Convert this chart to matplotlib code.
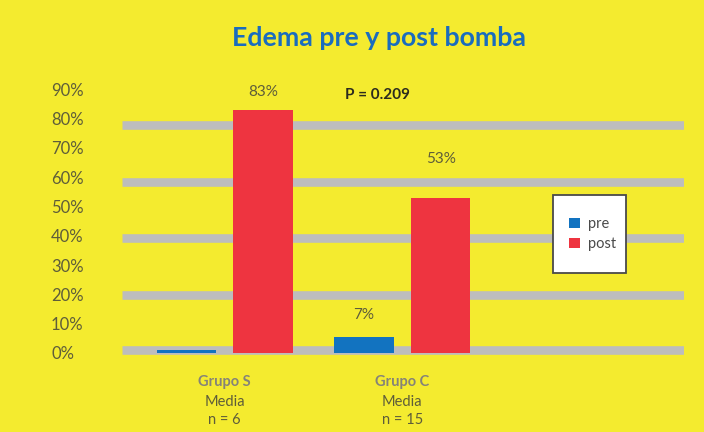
import matplotlib
matplotlib.use("Agg")
import matplotlib.pyplot as plt
from matplotlib.patches import Rectangle, Patch
import numpy as np

plt.rcParams['font.family'] = ['Lato', 'DejaVu Sans']

# ---- data ----
groups = ["Grupo S", "Grupo C"]
group_media = ["Media", "Media"]
group_n = ["n = 6", "n = 15"]
pre = [1.0, 5.6]
post = [83.0, 53.0]
pre_labels = ["", "7%"]
post_labels = ["83%", "53%"]
y_ticks = [0, 10, 20, 30, 40, 50, 60, 70, 80, 90]
y_tick_labels = [f"{v}%" for v in y_ticks]
grid_levels = [1.0, 19.8, 39.1, 58.4, 77.9]
series_names = ["pre", "post"]
p_text = "P = 0.209"
title = "Edema pre y post bomba"

# ---- style ----
BG = "#F4EB2F"
BLUE = "#1273C0"
RED = "#EE3440"
GRID = "#BDBDBD"
TXT = "#5E5D3A"
TITLE = "#1A6CBE"

W, H = 704, 432
fig = plt.figure(figsize=(W / 100, H / 100), dpi=100, facecolor=BG)

# axes in pixel positions
x0, x1 = 121.7, 684.3
ytop, ybot = 85, 360
ax = fig.add_axes([x0 / W, (H - ybot) / H, (x1 - x0) / W, (ybot - ytop) / H])
ax.set_facecolor(BG)
ax.set_xlim(-0.580, 2.588)
ax.set_ylim(-2.39, 91.47)

for g in grid_levels:
    ax.axhline(g, color=GRID, lw=6.2, zorder=1, solid_capstyle='butt')

x = np.arange(len(groups))
off, bw = 0.216, 0.335
b1 = ax.bar(x - off, pre, bw, color=BLUE, zorder=2)
b2 = ax.bar(x + off, post, bw, color=RED, zorder=2)

# value labels
ax.text(x[0] + off, 89.0, post_labels[0], ha='center', va='center', fontsize=11, color=TXT)
ax.text(x[1] + off, 66.2, post_labels[1], ha='center', va='center', fontsize=11, color=TXT)
ax.text(x[1] - off, 12.9, pre_labels[1], ha='center', va='center', fontsize=11, color=TXT)

# p value
ax.text(0.68, 87.9, p_text, ha='left', va='center', fontsize=11, fontweight='bold', color="#2B2B1E")

for s in ax.spines.values():
    s.set_visible(False)
ax.set_xticks([])
ax.set_yticks(y_ticks)
ax.set_yticklabels(y_tick_labels, fontsize=12, color=TXT, ha='left')
ax.tick_params(axis='y', length=0, pad=50.9)

# category labels
for i in range(len(groups)):
    ax.text(x[i], -9.8, groups[i], ha='center', va='center', fontsize=10.5,
            fontweight='bold', color="#858378", clip_on=False)
    ax.text(x[i], -16.6, group_media[i], ha='center', va='center', fontsize=10.5,
            color=TXT, clip_on=False)
    ax.text(x[i], -22.9, group_n[i], ha='center', va='center', fontsize=10.5,
            color=TXT, clip_on=False)

# legend box (pixels)
lx0, lx1, ly0, ly1 = 553.3, 625.7, 195, 273.3
fig.patches.append(Rectangle((lx0 / W, (H - ly1) / H), (lx1 - lx0) / W, (ly1 - ly0) / H,
                             transform=fig.transFigure, facecolor='white', edgecolor='#4A4A4A',
                             lw=1.3, zorder=5))
handles = [Patch(facecolor=BLUE), Patch(facecolor=RED)]
leg = fig.legend(handles, series_names, loc='center left',
                 bbox_to_anchor=(562 / W, (H - 234) / H), frameon=False,
                 fontsize=10.5, handlelength=0.7, handleheight=0.7, handletextpad=0.6,
                 labelspacing=0.45, borderpad=0, labelcolor="#4A4A4A")
leg.set_zorder(6)

fig.text(379 / W, (H - 38) / H, title, ha='center', va='center', fontsize=19.3,
         fontweight='bold', color=TITLE)

fig.savefig("out.png", dpi=100, facecolor=BG)
